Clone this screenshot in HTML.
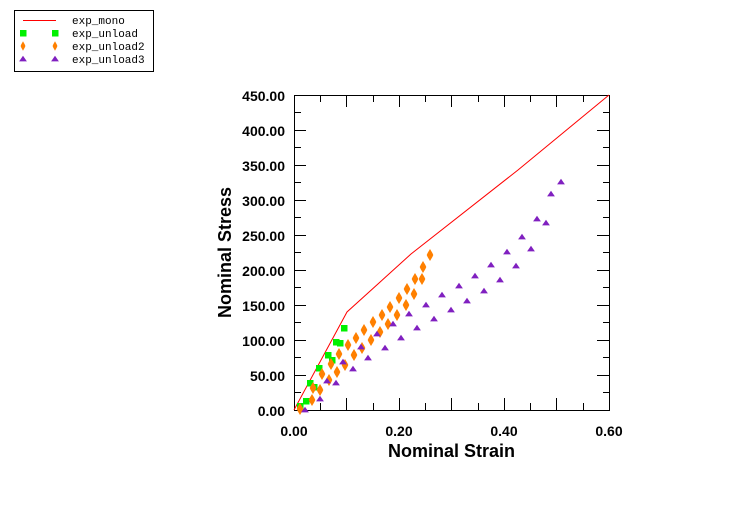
<!DOCTYPE html>
<html><head><meta charset="utf-8"><style>
html,body{margin:0;padding:0;background:#fff;}
svg{display:block;}
.tl{font-family:"Liberation Sans",Arial,sans-serif;font-weight:bold;font-size:14px;fill:#000;}
.at{font-family:"Liberation Sans",Arial,sans-serif;font-weight:bold;font-size:18px;fill:#000;}
.lg{font-family:"Liberation Mono","Courier New",monospace;font-size:11px;fill:#000;}
</style></head><body>
<svg width="746" height="506" viewBox="0 0 746 506" xmlns="http://www.w3.org/2000/svg">
<defs>
<rect id="sq" x="-3" y="-3" width="6.5" height="6.5" fill="#00f000"/>
<polygon id="dm" points="0,-6 2.4,-2 3.3,0 2.4,2 0,6 -2.4,2 -3.3,0 -2.4,-2" fill="#ff8000"/>
<polygon id="dms" points="0,-4.7 1.8,-1.5 2.4,0 1.8,1.5 0,4.7 -1.8,1.5 -2.4,0 -1.8,-1.5" fill="#ff8000"/>
<polygon id="tr" points="0,-3.2 3.9,2.4 -3.9,2.4" fill="#8020c0"/>
</defs>
<rect width="746" height="506" fill="#fff"/>

<!-- legend -->
<rect x="14.5" y="10.5" width="139" height="61" fill="none" stroke="#000" stroke-width="1"/>
<line x1="23" y1="20.5" x2="56" y2="20.5" stroke="#ff0000" stroke-width="1"/>
<use href="#sq" x="23" y="33"/><use href="#sq" x="55" y="33"/>
<use href="#dms" x="23" y="46"/><use href="#dms" x="55" y="46"/>
<use href="#tr" x="23" y="59"/><use href="#tr" x="55" y="59"/>
<text class="lg" x="72" y="24">exp_mono</text>
<text class="lg" x="72" y="37">exp_unload</text>
<text class="lg" x="72" y="50">exp_unload2</text>
<text class="lg" x="72" y="63">exp_unload3</text>

<!-- frame -->
<rect x="294.5" y="95.5" width="315" height="315" fill="none" stroke="#000" stroke-width="1"/>
<!-- ticks -->
<path stroke="#000" stroke-width="1" fill="none" d="
M320.5,410V403 M346.5,410V398 M373.5,410V403 M399.5,410V398 M425.5,410V403 M451.5,410V398 M478.5,410V403 M504.5,410V398 M530.5,410V403 M556.5,410V398 M583.5,410V403
M320.5,95V102 M346.5,95V107 M373.5,95V102 M399.5,95V107 M425.5,95V102 M451.5,95V107 M478.5,95V102 M504.5,95V107 M530.5,95V102 M556.5,95V107 M583.5,95V102
M294,392.5H301 M294,375.5H306 M294,357.5H301 M294,340.5H306 M294,322.5H301 M294,305.5H306 M294,287.5H301 M294,270.5H306 M294,252.5H301 M294,235.5H306 M294,217.5H301 M294,200.5H306 M294,182.5H301 M294,165.5H306 M294,147.5H301 M294,130.5H306 M294,112.5H301
M610,392.5H603 M610,375.5H597 M610,357.5H603 M610,340.5H597 M610,322.5H603 M610,305.5H597 M610,287.5H603 M610,270.5H597 M610,252.5H603 M610,235.5H597 M610,217.5H603 M610,200.5H597 M610,182.5H603 M610,165.5H597 M610,147.5H603 M610,130.5H597 M610,112.5H603
"/>

<!-- y tick labels -->
<g class="tl" text-anchor="end">
<text x="285" y="416">0.00</text>
<text x="285" y="381">50.00</text>
<text x="285" y="346">100.00</text>
<text x="285" y="311">150.00</text>
<text x="285" y="276">200.00</text>
<text x="285" y="241">250.00</text>
<text x="285" y="206">300.00</text>
<text x="285" y="171">350.00</text>
<text x="285" y="136">400.00</text>
<text x="285" y="101">450.00</text>
</g>
<!-- x tick labels -->
<g class="tl" text-anchor="middle">
<text x="294" y="436">0.00</text>
<text x="399" y="436">0.20</text>
<text x="504" y="436">0.40</text>
<text x="609" y="436">0.60</text>
</g>
<text class="at" x="451.5" y="457" text-anchor="middle">Nominal Strain</text>
<text class="at" transform="translate(231,252.5) rotate(-90)" text-anchor="middle">Nominal Stress</text>

<!-- exp_mono -->
<polyline fill="none" stroke="#ff0000" stroke-width="1" points="294,410 347,312 411,254 518,170 609,95"/>

<!-- exp_unload -->
<g>
<use href="#sq" x="300" y="406"/><use href="#sq" x="306" y="401"/><use href="#sq" x="310" y="383"/>
<use href="#sq" x="314" y="387"/><use href="#sq" x="319" y="368"/><use href="#sq" x="328" y="355"/>
<use href="#sq" x="332" y="360"/><use href="#sq" x="336" y="342"/><use href="#sq" x="340" y="343"/>
<use href="#sq" x="344" y="328"/>
</g>

<!-- exp_unload2 -->
<g>
<use href="#dm" x="300" y="409"/><use href="#dm" x="313" y="388"/><use href="#dm" x="322" y="374"/>
<use href="#dm" x="331" y="364"/><use href="#dm" x="339" y="354"/><use href="#dm" x="348" y="345"/>
<use href="#dm" x="356" y="338"/><use href="#dm" x="364" y="330"/><use href="#dm" x="373" y="322"/>
<use href="#dm" x="382" y="315"/><use href="#dm" x="390" y="307"/><use href="#dm" x="399" y="298"/>
<use href="#dm" x="407" y="289"/><use href="#dm" x="415" y="279"/><use href="#dm" x="423" y="267"/>
<use href="#dm" x="430" y="255"/>
<use href="#dm" x="312" y="400"/><use href="#dm" x="320" y="390"/><use href="#dm" x="329" y="380"/>
<use href="#dm" x="337" y="372"/><use href="#dm" x="345" y="365"/><use href="#dm" x="354" y="355"/>
<use href="#dm" x="362" y="348"/><use href="#dm" x="371" y="340"/><use href="#dm" x="380" y="332"/>
<use href="#dm" x="388" y="324"/><use href="#dm" x="397" y="315"/><use href="#dm" x="406" y="305"/>
<use href="#dm" x="414" y="294"/><use href="#dm" x="422" y="279"/>
</g>

<!-- exp_unload3 -->
<g>
<use href="#tr" x="305" y="410"/><use href="#tr" x="320" y="399"/><use href="#tr" x="327" y="381"/>
<use href="#tr" x="336" y="383"/><use href="#tr" x="343" y="362"/><use href="#tr" x="353" y="369"/>
<use href="#tr" x="361" y="347"/><use href="#tr" x="368" y="358"/><use href="#tr" x="377" y="334"/>
<use href="#tr" x="385" y="348"/><use href="#tr" x="393" y="324"/><use href="#tr" x="401" y="338"/>
<use href="#tr" x="409" y="314"/><use href="#tr" x="417" y="328"/><use href="#tr" x="426" y="305"/>
<use href="#tr" x="434" y="319"/><use href="#tr" x="442" y="295"/><use href="#tr" x="451" y="310"/>
<use href="#tr" x="459" y="286"/><use href="#tr" x="467" y="301"/><use href="#tr" x="475" y="276"/>
<use href="#tr" x="484" y="291"/><use href="#tr" x="491" y="265"/><use href="#tr" x="500" y="280"/>
<use href="#tr" x="507" y="252"/><use href="#tr" x="516" y="266"/><use href="#tr" x="522" y="237"/>
<use href="#tr" x="531" y="249"/><use href="#tr" x="537" y="219"/><use href="#tr" x="546" y="223"/>
<use href="#tr" x="551" y="194"/><use href="#tr" x="561" y="182"/>
</g>
</svg>
</body></html>
